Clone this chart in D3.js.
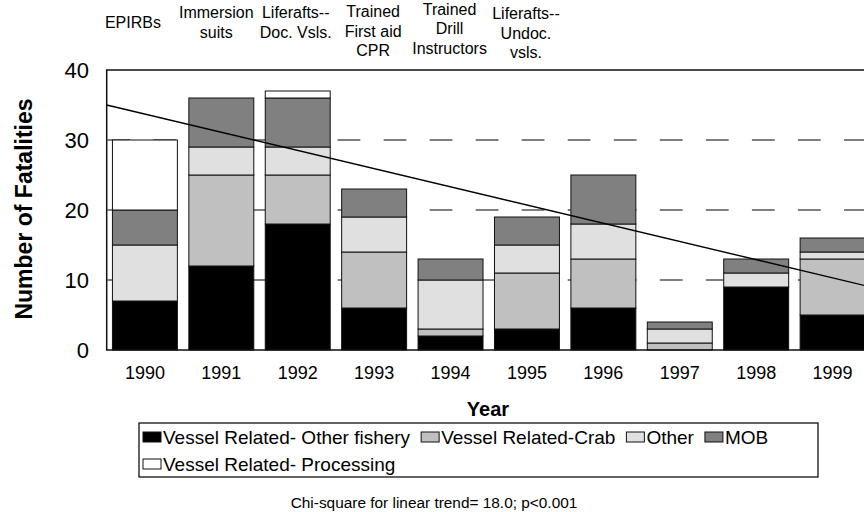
<!DOCTYPE html>
<html>
<head>
    <meta charset="utf-8">
    <title>Fatalities by year</title>
    <style type="text/css">
        body { margin: 0; background: #fff; }
        svg { display: block; font-family: Arial, "Liberation Sans", sans-serif; }
    </style>
</head>
<body>
    <svg id="chart"></svg>
    <script src="https://cdn.jsdelivr.net/npm/d3@7"></script>
    <script type="text/javascript">
        // data
        var years = ["1990", "1991", "1992", "1993", "1994", "1995", "1996", "1997", "1998", "1999"]
        var otherFishery = [7, 12, 18, 6, 2, 3, 6, 0, 9, 5]
        var crab = [0, 13, 7, 8, 1, 8, 7, 1, 0, 8]
        var other = [8, 4, 4, 5, 7, 4, 5, 2, 2, 1]
        var mob = [5, 7, 7, 4, 3, 4, 7, 1, 2, 2]
        var processing = [10, 0, 1, 0, 0, 0, 0, 0, 0, 0]
        var seriesNames = ["Vessel Related- Other fishery", "Vessel Related-Crab", "Other", "MOB", "Vessel Related- Processing"]
        var seriesKeys = ["otherFishery", "crab", "other", "mob", "processing"]
        var yTicks = [0, 10, 20, 30, 40]
        // trend line value at the left and right edge of the plot
        var trendEnds = [35, 9]
        // safety measures put in place, one per year from 1990
        var measures = [
            ["EPIRBs"],
            ["Immersion", "suits"],
            ["Liferafts--", "Doc. Vsls."],
            ["Trained", "First aid", "CPR"],
            ["Trained", "Drill", "Instructors"],
            ["Liferafts--", "Undoc.", "vsls."]
        ]
        var chiText = "Chi-square for linear trend= 18.0; p<0.001"

        var colors = ["#000000", "#c0c0c0", "#e0e0e0", "#808080", "#ffffff"]
        var width = 864
        var height = 512
        var plotLeft = 106.7, plotRight = 870.8, plotTop = 70, plotBottom = 350

        // table for d3.stack
        var table = years.map(function(y, i) {
            return {
                year: y,
                otherFishery: otherFishery[i],
                crab: crab[i],
                other: other[i],
                mob: mob[i],
                processing: processing[i]
            }
        })

        var svg = d3.select("#chart")
            .attr("width", width)
            .attr("height", height)

        var x = d3.scaleBand()
            .domain(years)
            .range([plotLeft, plotRight])
            .paddingInner(0.15)
            .paddingOuter(0.075)

        var y = d3.scaleLinear()
            .domain([0, 40])
            .range([plotBottom, plotTop])

        // dashed gridlines behind the bars
        svg.append("g")
            .selectAll("line")
            .data(yTicks.filter(d => d > 0 && d < 40))
            .join("line")
                .attr("x1", plotLeft)
                .attr("x2", plotRight)
                .attr("y1", d => y(d))
                .attr("y2", d => y(d))
                .attr("stroke", "#555")
                .attr("stroke-width", 1.3)
                .attr("stroke-dasharray", "22.8,23.24")
                .attr("stroke-dashoffset", -0.65)

        var stacked = d3.stack().keys(seriesKeys)(table)

        svg.append("g")
            .selectAll("g")
            .data(stacked)
            .join("g")
                .attr("fill", (d, i) => colors[i])
            .selectAll("rect")
            .data(d => d.filter(s => s[1] > s[0]))
            .join("rect")
                .attr("x", d => x(d.data.year))
                .attr("width", x.bandwidth())
                .attr("y", d => y(d[1]))
                .attr("height", d => y(d[0]) - y(d[1]))
                .attr("stroke", "#111")
                .attr("stroke-width", 1)

        // frame: top, left and bottom
        svg.append("path")
            .attr("d", `M${plotRight},${plotTop}H${plotLeft}V${plotBottom}H${plotRight}`)
            .attr("fill", "none")
            .attr("stroke", "#111")
            .attr("stroke-width", 1.5)

        // trend line
        svg.append("line")
            .attr("x1", plotLeft)
            .attr("x2", plotRight)
            .attr("y1", y(trendEnds[0]))
            .attr("y2", y(trendEnds[1]))
            .attr("stroke", "#000")
            .attr("stroke-width", 1.4)

        // y axis labels
        svg.append("g")
            .selectAll("text")
            .data(yTicks)
            .join("text")
                .attr("x", 89)
                .attr("y", d => y(d))
                .attr("dy", "0.36em")
                .attr("text-anchor", "end")
                .style("font-size", "22px")
                .text(d => d)

        // x labels
        svg.append("g")
            .selectAll("text")
            .data(years)
            .join("text")
                .attr("x", d => x(d) + x.bandwidth() / 2)
                .attr("y", 379)
                .attr("text-anchor", "middle")
                .style("font-size", "18px")
                .text(d => d)

        svg.append("text")
            .attr("transform", "translate(32,209) rotate(-90)")
            .attr("text-anchor", "middle")
            .style("font-size", "23px")
            .style("font-weight", "bold")
            .text("Number of Fatalities")

        svg.append("text")
            .attr("x", 488)
            .attr("y", 416)
            .attr("text-anchor", "middle")
            .style("font-size", "20px")
            .style("font-weight", "bold")
            .text("Year")

        // measures above the plot, first baseline of each label
        var firstLine = [28.3, 18.3, 18.3, 17.3, 15, 19.3]
        var nudge = [-12, -5, -2, -1, -1, -1]
        svg.append("g")
            .selectAll("text")
            .data(measures)
            .join("text")
                .attr("text-anchor", "middle")
                .style("font-size", "16px")
                .attr("transform", (d, i) => `translate(${x(years[i]) + x.bandwidth() / 2 + nudge[i]},${firstLine[i]})`)
            .selectAll("tspan")
            .data(d => d)
            .join("tspan")
                .attr("x", 0)
                .attr("y", (d, i) => i * 19.3)
                .text(d => d)

        // legend
        var legend = svg.append("g")
        legend.append("rect")
            .attr("x", 139)
            .attr("y", 423)
            .attr("width", 679)
            .attr("height", 54)
            .attr("fill", "none")
            .attr("stroke", "#111")
            .attr("stroke-width", 1.3)

        var rows = [[0, 1, 2, 3], [4]]
        rows.forEach(function(row, r) {
            var lx = 143
            var ly = 437 + r * 27
            row.forEach(function(k) {
                legend.append("rect")
                    .attr("x", lx)
                    .attr("y", ly - 5)
                    .attr("width", 18)
                    .attr("height", 10)
                    .attr("fill", colors[k])
                    .attr("stroke", "#111")
                    .attr("stroke-width", 1)
                var t = legend.append("text")
                    .attr("x", lx + 20)
                    .attr("y", ly)
                    .attr("dy", "0.36em")
                    .style("font-size", "19px")
                    .text(seriesNames[k])
                lx += 20 + t.node().getComputedTextLength() + 11
            })
        })

        svg.append("text")
            .attr("x", 434)
            .attr("y", 508)
            .attr("text-anchor", "middle")
            .style("font-size", "15.4px")
            .text(chiText)
    </script>
</body>
</html>
